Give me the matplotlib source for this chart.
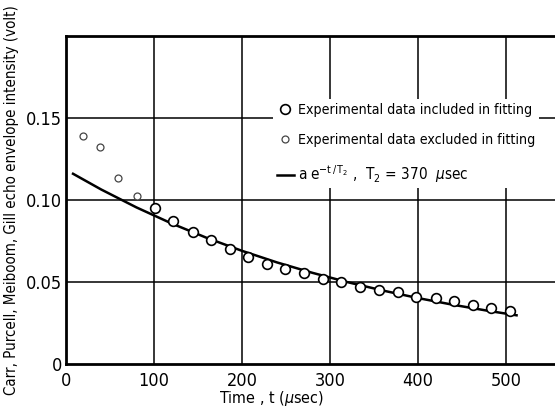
import matplotlib
matplotlib.use("Agg")
import matplotlib.pyplot as plt

# data
t_excl = [19, 39, 59, 81]
v_excl = [0.139, 0.1323, 0.1134, 0.1024]

t_incl = [101, 122, 144, 165, 186, 207, 228, 249, 270, 292,
          313, 334, 356, 377, 398, 420, 441, 462, 483, 504]
v_incl = [0.095, 0.0872, 0.0806, 0.0757, 0.0701, 0.0652, 0.0610, 0.0579, 0.0555, 0.0518,
          0.0500, 0.0469, 0.0451, 0.0439, 0.0408, 0.0402, 0.0384, 0.0360, 0.0341, 0.0323]

t_fit = [8, 40, 80, 120, 160, 200, 240, 280, 320, 360, 400, 440, 480, 512]
v_fit = [0.116, 0.1064, 0.0955, 0.0857, 0.0769, 0.0690, 0.0619, 0.0556,
         0.0499, 0.0448, 0.0402, 0.0361, 0.0324, 0.0297]

xticks = [0, 100, 200, 300, 400, 500]
yticks = [0, 0.05, 0.10, 0.15]
ytick_labels = ["0", "0.05", "0.10", "0.15"]

plt.rcParams['font.family'] = ['DejaVu Sans']
plt.rcParams['font.stretch'] = 'condensed'
plt.rcParams['mathtext.fontset'] = 'dejavusans'

fig = plt.figure(figsize=(5.55, 4.08), dpi=100)
ax = fig.add_axes([66 / 555, 44 / 408, 528 / 555, 328 / 408])

ax.set_xlim(0, 600)
ax.set_ylim(0, 0.2)

for x in xticks[1:]:
    ax.axvline(x, color='black', lw=1.1, zorder=1)
for y in yticks[1:]:
    ax.axhline(y, color='black', lw=1.1, zorder=1)

l_incl, = ax.plot(t_incl, v_incl, 'o', ms=7, mfc='white', mec='black', mew=1.2,
                  zorder=3, label='Experimental data included in fitting')
l_excl, = ax.plot(t_excl, v_excl, 'o', ms=5, mfc='white', mec='#444444', mew=0.9,
                  zorder=3, label='Experimental data excluded in fitting')
l_fit, = ax.plot(t_fit, v_fit, '-', color='black', lw=1.8, zorder=2,
                 label=r'$\mathrm{a\;e^{-t\,/\,T_2}}$ ,  $\mathrm{T_2}$ = 370  $\mu$sec')

for s in ['top', 'left', 'bottom']:
    ax.spines[s].set_linewidth(2)
ax.spines['right'].set_visible(False)

ax.set_xticks(xticks)
ax.set_yticks(yticks)
ax.set_yticklabels(ytick_labels)
ax.tick_params(axis='x', length=0, labelsize=13, pad=6)
ax.tick_params(axis='y', length=0, labelsize=13, pad=3)

ax.set_xlabel(r'Time , t ($\mu$sec)', fontsize=11.5)
ax.xaxis.set_label_coords(234 / 600, -0.075)
ax.set_ylabel('Carr, Purcell, Meiboom, Gill echo envelope intensity (volt)', fontsize=10.8)
ax.yaxis.label.set_va('center')
ax.yaxis.set_label_coords(-54 / 528, 0.5)

leg = ax.legend(handles=[l_incl, l_excl, l_fit], loc='upper left',
                bbox_to_anchor=(266 / 555, 1 - 92 / 408), bbox_transform=fig.transFigure,
                fontsize=10.2, frameon=True, facecolor='white', edgecolor='none',
                framealpha=1, fancybox=False, handlelength=1.2, handletextpad=0.3,
                borderpad=0.25, labelspacing=1.15)
for txt in leg.get_texts()[2:]:
    txt.set_fontsize(11)
leg.set_zorder(5)

fig.savefig('out.png', dpi=100)
